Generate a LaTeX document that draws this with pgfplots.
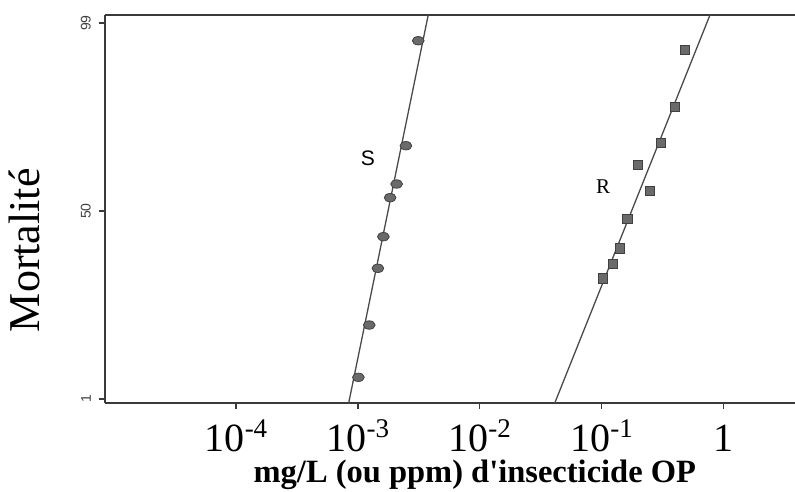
\documentclass[border=0pt]{standalone}
\usepackage{fontspec}
\setmainfont{Liberation Serif}
\newfontfamily\sansf{Liberation Sans}
\usepackage{pgfplots}
\pgfplotsset{compat=1.18}
\definecolor{axc}{HTML}{3A3A3A}
\definecolor{lnc}{HTML}{4A4A4A}
\definecolor{mkf}{HTML}{6A6A6A}
\definecolor{mkd}{HTML}{404040}
\begin{document}
\begin{tikzpicture}
\path[use as bounding box] (-105pt,-88pt) rectangle (690pt,403pt);
\begin{axis}[
  at={(0pt,0pt)}, anchor=south west,
  scale only axis, width=690pt, height=388pt,
  xmode=log, xmin=8.41e-6, xmax=3.87,
  ymin=-2.376, ymax=2.4254,
  axis x line=box, axis y line=left,
  x axis line style={-}, y axis line style={-},
  axis line style={line width=2.2pt, draw=axc},
  tick style={line width=1.3pt, draw=axc},
  tick align=outside, major tick length=6pt,
  xtick pos=bottom, ytick pos=left,
  xminorticks=false,
  xtick={1e-4,1e-3,1e-2,1e-1,1},
  xticklabels={10\raisebox{14pt}{\fontsize{27}{27}\selectfont -4},
               10\raisebox{14pt}{\fontsize{27}{27}\selectfont -3},
               10\raisebox{14pt}{\fontsize{27}{27}\selectfont -2},
               10\raisebox{14pt}{\fontsize{27}{27}\selectfont -1},
               1},
  xticklabel style={font=\fontsize{40}{40}\selectfont, anchor=base, inner sep=0pt, yshift=-42pt, text=black},
  ytick={-2.3263,0,2.3263},
  yticklabels={1,50,99},
  yticklabel style={font=\sansf\fontsize{14}{14}\selectfont, text=black!75, xshift=-8pt, rotate=90, anchor=south, inner sep=0pt},
  xlabel={\bfseries mg/L (ou ppm) d\textquotesingle insecticide OP},
  xlabel style={font=\fontsize{32.5}{32.5}\selectfont, at={(axis description cs:0.536,-0.2036)}, anchor=base},
  ylabel={Mortalité},
  ylabel style={font=\fontsize{44}{44}\selectfont, at={(axis description cs:-0.0942,0.394)}, anchor=base, rotate=0},
  clip=true,
]
\addplot[lnc, line width=1.3pt] coordinates {(8.41e-4,-2.376) (3.78e-3,2.4254)};
\addplot[lnc, line width=1.3pt] coordinates {(0.0413,-2.376) (0.776,2.4254)};
\addplot[only marks, mark=*, mark size=4.2pt, mark options={xscale=1.4, fill=mkf, draw=mkd, line width=0.8pt}] coordinates {
(3.13e-3,2.107) (2.48e-3,0.808) (2.08e-3,0.334) (1.84e-3,0.165)
(1.62e-3,-0.318) (1.46e-3,-0.709) (1.24e-3,-1.411) (1.01e-3,-2.058)};
\addplot[only marks, mark=square*, mark size=4.6pt, mark options={fill=mkf, draw=mkd, line width=0.8pt}] coordinates {
(0.484,1.992) (0.401,1.291) (0.308,0.838) (0.198,0.569) (0.250,0.251)
(0.163,-0.099) (0.1416,-0.462) (0.1247,-0.656) (0.1021,-0.833)};
\node[font=\sansf\fontsize{21}{21}\selectfont] at (axis cs:1.21e-3,0.656) {S};
\node[font=\fontsize{21}{21}\selectfont] at (axis cs:0.1028,0.297) {R};
\end{axis}
\end{tikzpicture}
\end{document}
